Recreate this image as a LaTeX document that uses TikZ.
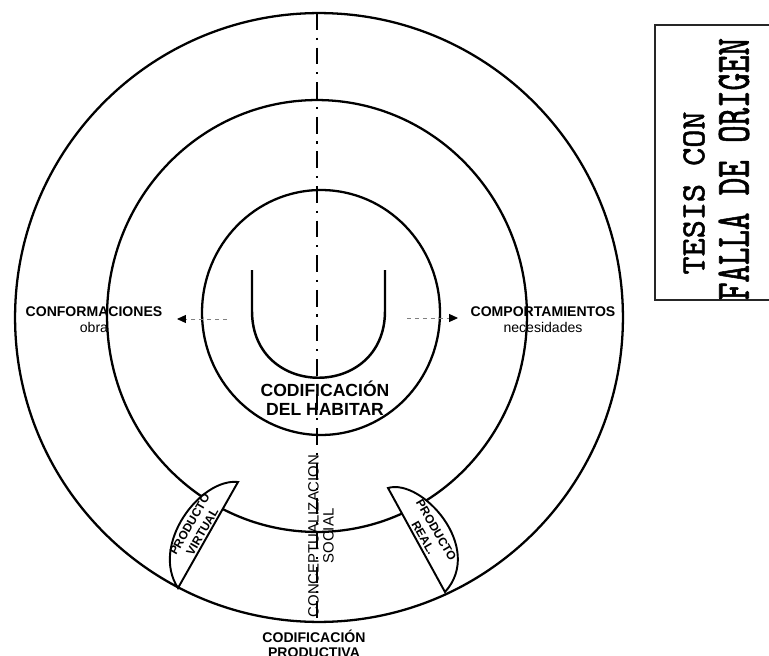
\documentclass[tikz,border=0pt]{standalone}
\usepackage{fontspec}
\setmainfont{Liberation Sans}
\newfontfamily\stampfont{Latin Modern Mono}[FakeBold=1.5]
\usetikzlibrary{arrows.meta}
\newcommand{\lblbold}{\fontsize{8}{9}\selectfont\bfseries}
\newcommand{\tabfont}{\fontsize{6.8}{8.3}\selectfont\bfseries}
\begin{document}
\begin{tikzpicture}[x=0.02cm,y=-0.02cm,
    ring/.style={line width=1.3pt},
    tab/.style={line width=1.1pt, fill=white},
    axisline/.style={line width=1pt, dash pattern=on 9.5pt off 4.5pt on 1.2pt off 4.5pt},
    hint/.style={gray, line width=0.5pt, dash pattern=on 2.5pt off 2pt, -{Triangle[length=5pt,width=4.5pt,black]}}]
     \useasboundingbox (0,0) rectangle (769,656);
     \draw[ring] (319,317.5) ellipse [x radius=6.08cm, y radius=6.09cm];
     \draw[ring] (317,316) ellipse [x radius=4.2cm, y radius=4.32cm];
     \draw[ring] (321,312.5) ellipse [x radius=2.38cm, y radius=2.45cm];
     \draw[line width=1.4pt] (252,270) -- (252,311) .. controls (252,400) and (385,400) .. (385,311) -- (385,270);
     % product tabs
     \draw[tab] (238,482) .. controls (200,478) and (150,545) .. (178,588) -- cycle;
     \draw[tab] (388,488) .. controls (422,478) and (485,548) .. (445,592) -- cycle;
     % axis
     \coordinate (axtop) at (317,13);
     \coordinate (axbot) at (317,622);
     \draw[axisline] (axtop) -- (axbot);
     \coordinate (confstart) at (227,319);
     \coordinate (confend) at (177,319);
     \coordinate (compstart) at (407,318);
     \coordinate (compend) at (458,318);
     \draw[hint] (confstart) -- (confend);
     \draw[hint] (compstart) -- (compend);
     % labels
     \node[font=\lblbold, align=center] (conf) at (94,320) {CONFORMACIONES\\{\mdseries obra}};
     \node[font=\lblbold, align=center] (comp) at (543,320) {COMPORTAMIENTOS\\{\mdseries necesidades}};
     \node[font=\fontsize{10}{11}\selectfont\bfseries, align=center] (codhab) at (325,398) {CODIFICACIÓN\\DEL HABITAR};
     \node[font=\fontsize{8}{8.2}\selectfont\bfseries, align=center] (codprod) at (314,644) {CODIFICACIÓN\\PRODUCTIVA};
     \node[font=\fontsize{8.5}{8.6}\selectfont, align=center, rotate=90] (concep) at (321,536) {CONCEPTUALIZACION\\SOCIAL};
     \node[font=\tabfont, align=center, rotate=60, inner sep=0pt] (pvirt) at (196,528) {PRODUCTO\\VIRTUAL};
     \node[font=\tabfont, align=center, rotate=-60, inner sep=0pt] (preal) at (430,534) {PRODUCTO\\REAL.};
     % stamp
     \draw[line width=0.7pt, black!85] (655,25) rectangle (775,300);
     \node[rotate=90, inner sep=0pt] (tesis) at (694,193) {\resizebox{3.26cm}{0.42cm}{\stampfont TESIS CON}};
     \node[rotate=90, inner sep=0pt] (falla) at (734,169) {\resizebox{5.24cm}{0.6cm}{\stampfont FALLA DE ORIGEN}};
\end{tikzpicture}
\end{document}
